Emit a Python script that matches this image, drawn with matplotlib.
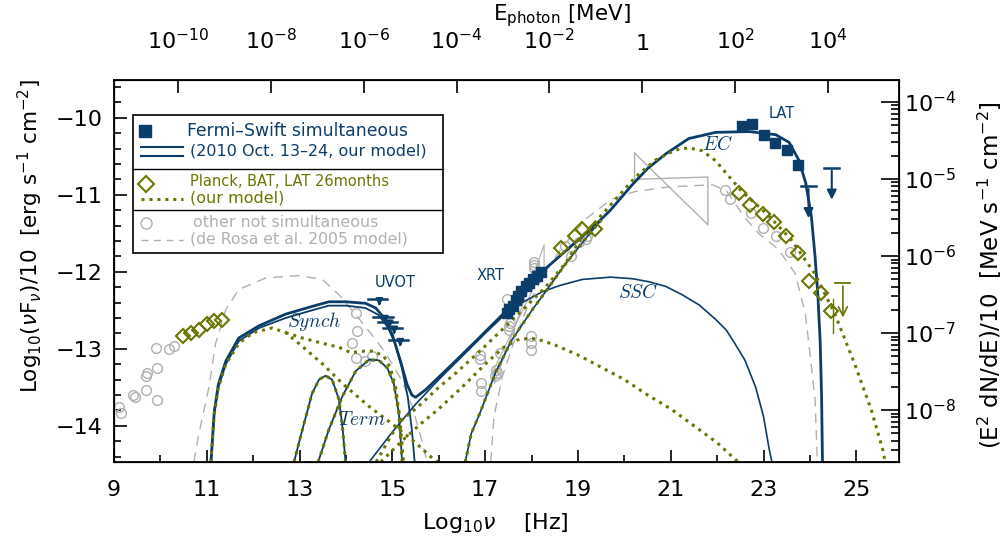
import numpy as np
import matplotlib
matplotlib.use("Agg")
import matplotlib.pyplot as plt
from matplotlib.patches import Rectangle
from matplotlib.ticker import MultipleLocator, FixedLocator, NullLocator, LogLocator

blue = '#0b3d6b'
olive = '#6b7500'
grey = '#b0b0b0'

# ---- models (log nu, log nuFnu) ----
tot_x = [11.09, 11.16, 11.25, 11.41, 11.69, 12.13, 12.7, 13.27, 13.63, 14.0, 14.42, 14.64, 14.82, 15.0,
         15.18, 15.32, 15.42, 15.5, 15.72, 16.29, 16.8, 17.3, 17.8, 18.3, 18.81, 19.31, 19.7, 20.17,
         20.5, 20.89, 21.39, 21.97, 22.69, 23.26, 23.55, 23.76, 23.91, 24.03, 24.11, 24.17, 24.22,
         24.25, 24.27]
tot_y = [-14.47, -13.82, -13.46, -13.16, -12.86, -12.7, -12.55, -12.45, -12.39, -12.39, -12.41, -12.47,
         -12.6, -12.82, -13.17, -13.47, -13.6, -13.63, -13.53, -13.2, -12.9, -12.6, -12.3, -11.96,
         -11.69, -11.43, -11.2, -10.87, -10.66, -10.47, -10.27, -10.19, -10.18, -10.22, -10.32, -10.55,
         -10.85, -11.28, -11.8, -12.3, -12.9, -13.6, -14.47]

syn_x = [11.09, 11.16, 11.25, 11.41, 11.69, 12.13, 12.7, 13.27, 13.63, 14.0, 14.42, 14.7, 14.9, 15.05,
         15.2, 15.33, 15.42, 15.48]
syn_y = [-14.47, -13.85, -13.5, -13.2, -12.9, -12.73, -12.6, -12.5, -12.44, -12.44, -12.47, -12.56,
         -12.72, -12.92, -13.24, -13.62, -14.05, -14.47]

th1_x = [12.88, 13.06, 13.27, 13.42, 13.56, 13.7, 13.85, 13.93, 13.99]
th1_y = [-14.47, -14.05, -13.58, -13.4, -13.35, -13.4, -13.66, -14.05, -14.47]
th2_x = [13.4, 13.63, 13.92, 14.21, 14.5, 14.71, 14.89, 15.03, 15.14, 15.21]
th2_y = [-14.47, -14.05, -13.62, -13.29, -13.14, -13.15, -13.25, -13.45, -13.84, -14.47]

ssc_x = [14.5, 15.0, 15.5, 16.0, 16.5, 17.0, 17.4, 17.8, 18.23, 18.6, 19.09, 19.7, 20.17, 20.53,
         20.89, 21.25, 21.61, 21.97, 22.2, 22.4, 22.6, 22.83, 23.0, 23.12, 23.18]
ssc_y = [-14.47, -14.08, -13.72, -13.4, -13.1, -12.8, -12.57, -12.4, -12.26, -12.18, -12.1, -12.07,
         -12.09, -12.13, -12.19, -12.3, -12.43, -12.62, -12.76, -12.95, -13.15, -13.5, -13.88, -14.3,
         -14.47]

ec_x = [16.57, 16.7, 16.87, 17.23, 17.58, 18.02, 18.3, 18.73, 18.95, 19.3, 19.5]
ec_y = [-14.47, -14.1, -13.86, -13.3, -12.88, -12.49, -12.26, -11.9, -11.73, -11.47, -11.33]

# green (26 months) model
gsyn_x = [11.09, 11.16, 11.25, 11.41, 11.69, 12.0, 12.41, 12.7, 13.06, 13.5, 13.92, 14.5, 15.07,
          15.5, 15.86, 15.98]
gsyn_y = [-14.47, -13.85, -13.5, -13.2, -12.93, -12.79, -12.73, -12.79, -12.97, -13.2, -13.45,
          -13.75, -14.01, -14.22, -14.42, -14.47]
glow_x = [12.7, 13.06, 13.5, 13.85, 14.1, 14.4, 14.6, 14.82, 14.96, 15.07, 15.16, 15.21, 15.24]
glow_y = [-12.79, -12.86, -12.93, -12.98, -13.05, -13.03, -13.03, -13.1, -13.25, -13.5, -13.9,
          -14.25, -14.47]
gtot_x = [14.65, 15.0, 15.21, 15.5, 15.72, 16.0, 16.36, 16.87, 17.3, 17.73, 18.3, 18.73, 19.09,
          19.5, 19.81, 20.24, 20.67, 21.1, 21.39, 21.68, 21.97, 22.25, 22.52, 23.09, 23.59, 24.1,
          24.53, 24.96, 25.32, 25.57, 25.62]
gtot_y = [-14.47, -14.1, -13.92, -13.78, -13.66, -13.5, -13.32, -13.04, -12.79, -12.54, -12.2,
          -11.89, -11.55, -11.27, -11.06, -10.77, -10.55, -10.42, -10.39, -10.43, -10.56, -10.76,
          -10.95, -11.26, -11.58, -12.02, -12.54, -13.19, -13.79, -14.31, -14.47]
gssc_x = [14.75, 15.2, 15.6, 16.0, 16.5, 17.0, 17.4, 17.75, 18.1, 18.5, 19.0, 19.5, 20.0, 20.5,
          21.0, 21.5, 22.0, 22.45]
gssc_y = [-14.47, -14.2, -13.98, -13.78, -13.5, -13.2, -12.98, -12.87, -12.87, -12.95, -13.08,
          -13.24, -13.4, -13.6, -13.78, -14.0, -14.22, -14.47]

# de Rosa et al. 2005
dr1_x = [10.72, 10.83, 11.05, 11.19, 11.41, 11.69, 12.27, 12.99, 13.49, 13.85, 14.2, 14.6, 14.85,
         15.21, 15.43, 15.61, 15.75]
dr1_y = [-14.47, -14.1, -13.49, -12.93, -12.49, -12.23, -12.08, -12.05, -12.1, -12.3, -12.55,
         -12.85, -13.05, -13.42, -13.75, -14.14, -14.47]
dr2_x = [17.12, 17.19, 17.37, 17.66, 17.94, 18.3, 18.7, 19.2, 19.72, 20.22, 20.94, 21.9, 22.2,
         22.6, 22.89, 23.32, 23.68, 23.9, 24.0, 24.11, 24.16]
dr2_y = [-14.47, -13.88, -13.36, -12.84, -12.41, -12.0, -11.65, -11.3, -11.06, -10.96, -10.9,
         -10.87, -10.95, -11.3, -11.5, -11.71, -12.02, -12.54, -13.06, -13.66, -14.47]

# ---- data ----
xrt_x = [17.46, 17.52, 17.59, 17.66, 17.71, 17.78, 17.87, 17.95, 18.03, 18.11, 18.2]
xrt_y = [-12.53, -12.49, -12.44, -12.37, -12.31, -12.25, -12.19, -12.14, -12.09, -12.05, -12.0]
lat_x = [22.53, 22.76, 23.0, 23.24, 23.5, 23.74]
lat_y = [-10.11, -10.08, -10.23, -10.33, -10.42, -10.61]
uvot_x = [14.68, 14.8, 14.9, 15.0, 15.13]
uvot_y = [-12.36, -12.59, -12.65, -12.73, -12.89]
latul_x = [23.97, 24.47]
latul_y = [-10.89, -10.65]

planck_x = [10.48, 10.66, 10.83, 11.0, 11.16, 11.33]
planck_y = [-12.84, -12.79, -12.75, -12.68, -12.64, -12.62]
bat_x = [18.63, 18.94, 19.09, 19.36]
bat_y = [-11.69, -11.54, -11.45, -11.45]
lat26_x = [22.48, 22.71, 22.98, 23.22, 23.49, 23.74, 23.98, 24.23, 24.46]
lat26_y = [-10.98, -11.13, -11.25, -11.36, -11.54, -11.76, -12.12, -12.28, -12.51]
lat26ul_x = 24.71
lat26ul_y = -12.15

other_x = [9.11, 9.14, 9.4, 9.45, 9.68, 9.68, 9.72, 9.93, 9.93, 9.9, 10.19, 10.29,
           14.21, 14.24, 14.14, 14.21, 14.42, 14.57,
           16.88, 16.88, 16.9, 16.9, 17.22, 17.23, 17.25, 17.33, 17.48, 17.51, 17.51, 17.53,
           17.98, 17.98, 17.98, 18.05, 18.05, 18.05,
           18.73, 18.84, 19.02, 19.17, 19.2,
           22.16, 22.27, 22.73, 22.98, 23.27, 23.56]
other_y = [-13.75, -13.84, -13.6, -13.63, -13.53, -13.36, -13.32, -13.25, -13.66, -12.99, -13.0, -12.96,
           -12.54, -12.77, -12.93, -13.12, -13.16, -13.1,
           -13.08, -13.13, -13.45, -13.55, -13.36, -13.27, -13.32, -13.06, -12.36, -12.71, -12.76, -12.67,
           -12.84, -12.93, -13.01, -11.87, -11.91, -11.95,
           -11.67, -11.8, -11.61, -11.58, -11.54,
           -10.94, -11.06, -11.24, -11.43, -11.54, -11.74]

# bow ties
bow1_x = [20.22, 21.8, 21.8, 20.22, 20.22]
bow1_y = [-10.46, -11.39, -10.77, -10.8, -10.46]
bow2_x = [17.2, 18.27, 18.27, 17.2, 17.2]
bow2_y = [-13.45, -11.65, -11.93, -13.25, -13.45]

plt.rcParams['font.family'] = 'DejaVu Sans'
fig = plt.figure(figsize=(10.08, 5.43), dpi=100)
ax = fig.add_axes([0.1131, 0.1492, 0.7788, 0.7035])

ax.plot(dr1_x, dr1_y, color=grey, lw=1, ls=(0, (7, 5)))
ax.plot(dr2_x, dr2_y, color=grey, lw=1, ls=(0, (7, 5)))
ax.plot(bow1_x, bow1_y, color=grey, lw=1)
ax.plot(bow2_x, bow2_y, color=grey, lw=0.8)
ax.plot(other_x, other_y, 'o', ms=7, mfc='none', mec=grey, mew=1)

ax.plot(syn_x, syn_y, color=blue, lw=1.3)
ax.plot(th1_x, th1_y, color=blue, lw=1.3)
ax.plot(th2_x, th2_y, color=blue, lw=1.3)
ax.plot(ssc_x, ssc_y, color=blue, lw=1.2)
ax.plot(ec_x, ec_y, color=blue, lw=1.2)
ax.plot(tot_x, tot_y, color=blue, lw=2)

dot = (0, (1, 1.6))
for gx, gy in [(gsyn_x, gsyn_y), (glow_x, glow_y), (gtot_x, gtot_y), (gssc_x, gssc_y),
               (th1_x, th1_y), (th2_x, th2_y), (ec_x, ec_y)]:
    ax.plot(gx, gy, color=olive, lw=2.2, ls=dot)

ax.plot(planck_x + bat_x + lat26_x, planck_y + bat_y + lat26_y, 'D', ms=7, mfc='none', mec=olive, mew=1.5)
ax.plot(xrt_x, xrt_y, 's', ms=7, color=blue)
ax.errorbar(lat_x, lat_y, yerr=0.05, fmt='s', ms=7.5, color=blue, elinewidth=1)

# upper limits
for ux, uy in zip(uvot_x, uvot_y):
    ax.plot([ux - 0.21, ux + 0.21], [uy, uy], color=blue, lw=1.8)
    ax.annotate('', xy=(ux + 0.04, uy - 0.12), xytext=(ux + 0.04, uy),
                arrowprops=dict(arrowstyle='-|>', color=blue, lw=1.5, mutation_scale=10))
for ux, uy in zip(latul_x, latul_y):
    ax.plot([ux - 0.16, ux + 0.16], [uy, uy], color=blue, lw=1.8)
    ax.annotate('', xy=(ux, uy - 0.45), xytext=(ux, uy),
                arrowprops=dict(arrowstyle='-|>', color=blue, lw=1.5, mutation_scale=14))
ax.plot([lat26ul_x - 0.16, lat26ul_x + 0.16], [lat26ul_y, lat26ul_y], color=olive, lw=1.3)
ax.annotate('', xy=(lat26ul_x, lat26ul_y - 0.48), xytext=(lat26ul_x, lat26ul_y),
            arrowprops=dict(arrowstyle='->', color=olive, lw=1.2, mutation_scale=16))
ax.plot([24.49, 24.49], [-12.36, -12.8], color=olive, lw=1)

# component names
ax.text(13.31, -12.65, r'$Synch$', color=blue, fontsize=14, math_fontfamily='cm', ha='center', va='center')
ax.text(14.35, -13.92, r'$Term$', color=blue, fontsize=14, math_fontfamily='cm', ha='center', va='center')
ax.text(20.31, -12.27, r'$SSC$', color=blue, fontsize=14, math_fontfamily='cm', ha='center', va='center')
ax.text(22.0, -10.35, r'$EC$', color=blue, fontsize=14, math_fontfamily='cm', ha='center', va='center')
ax.text(15.06, -12.14, 'UVOT', color=blue, fontsize=10.5, ha='center', va='center')
ax.text(17.12, -12.05, 'XRT', color=blue, fontsize=10.5, ha='center', va='center')
ax.text(23.4, -9.95, 'LAT', color=blue, fontsize=10.5, ha='center', va='center')

# legend box
tr = ax.transAxes
ax.add_patch(Rectangle((0.0242, 0.547), 0.3949, 0.361, transform=tr, fill=False, ec='black', lw=1.2, zorder=5))
ax.plot([0.0242, 0.4191], [0.767, 0.767], transform=tr, color='black', lw=1, zorder=5)
ax.plot([0.0242, 0.4191], [0.660, 0.660], transform=tr, color='black', lw=1, zorder=5)
ax.plot([0.0395], [0.866], 's', ms=9, color=blue, transform=tr)
ax.plot([0.0344, 0.0879], [0.825, 0.825], color=blue, lw=1.5, transform=tr)
ax.plot([0.0344, 0.0879], [0.801, 0.801], color=blue, lw=1.5, transform=tr)
ax.plot([0.041], [0.728], 'D', ms=8, mfc='none', mec=olive, mew=1.5, transform=tr)
ax.plot([0.0344, 0.0879], [0.688, 0.688], color=olive, lw=2.2, ls=dot, transform=tr)
ax.plot([0.041], [0.626], 'o', ms=8, mfc='none', mec=grey, mew=1, transform=tr)
ax.plot([0.0344, 0.0879], [0.581, 0.581], color=grey, lw=1, ls=(0, (5, 4)), transform=tr)
ax.text(0.093, 0.866, 'Fermi\u2013Swift simultaneous', color=blue, fontsize=12.4, va='center', transform=tr)
ax.text(0.0968, 0.814, '(2010 Oct. 13\u201324, our model)', color=blue, fontsize=11.5, va='center', transform=tr)
ax.text(0.0968, 0.733, 'Planck, BAT, LAT 26months', color=olive, fontsize=10.5, va='center', transform=tr)
ax.text(0.0968, 0.692, '(our model)', color=olive, fontsize=11.5, va='center', transform=tr)
ax.text(0.100, 0.626, 'other not simultaneous', color=grey, fontsize=11.4, va='center', transform=tr)
ax.text(0.0968, 0.584, '(de Rosa et al. 2005 model)', color=grey, fontsize=11.3, va='center', transform=tr)

ax.set_xlim(9, 25.92)
ax.set_ylim(-14.47, -9.51)
ax.xaxis.set_major_locator(FixedLocator([9, 11, 13, 15, 17, 19, 21, 23, 25]))
ax.xaxis.set_minor_locator(MultipleLocator(1))
ax.yaxis.set_major_locator(MultipleLocator(1))
ax.yaxis.set_minor_locator(MultipleLocator(0.2))
ax.tick_params(which='both', direction='in', labelsize=16, width=1.2)
ax.tick_params(which='major', length=9)
ax.tick_params(which='minor', length=5)
ax.tick_params(axis='x', pad=13)
ax.tick_params(axis='y', pad=8)
ax.set_xticklabels(['9', '11', '13', '15', '17', '19', '21', '23', '25'])
for s in ax.spines.values():
    s.set_linewidth(1.3)

# right axis: E^2 dN/dE in MeV
conv = 5.7953
ax2 = ax.twinx()
ax2.set_yscale('log')
ax2.set_ylim(10 ** (-14.47 + conv), 10 ** (-9.51 + conv))
ax2.yaxis.set_major_locator(LogLocator(base=10, numticks=10))
ax2.yaxis.set_minor_locator(LogLocator(base=10, subs=np.arange(2, 10), numticks=10))
ax2.tick_params(which='both', direction='in', labelsize=16, width=1.2)
ax2.tick_params(which='major', length=13)
ax2.tick_params(which='minor', length=6)

# top axis: photon energy in MeV
hlog = -20.3835
ax3 = ax.twiny()
ax3.set_xscale('log')
ax3.set_xlim(10 ** (9 + hlog), 10 ** (25.92 + hlog))
top_ticks = [1e-10, 1e-8, 1e-6, 1e-4, 1e-2, 1, 1e2, 1e4]
top_labels = [r'$10^{-10}$', r'$10^{-8}$', r'$10^{-6}$', r'$10^{-4}$', r'$10^{-2}$', '1',
              r'$10^{2}$', r'$10^{4}$']
ax3.xaxis.set_major_locator(FixedLocator(top_ticks))
ax3.xaxis.set_minor_locator(NullLocator())
ax3.set_xticklabels(top_labels)
ax3.tick_params(direction='in', labelsize=16, length=9, width=1.2, pad=19)

# axis titles
fig.text(0.491, 0.036, r'Log$_{10}\nu$    [Hz]', fontsize=16, ha='center', va='center')
fig.text(0.5575, 0.971, r'E$_{\rm photon}$ [MeV]', fontsize=15.5, ha='center', va='center')
fig.text(0.030, 0.565, r'Log$_{10}$($\nu$F$_\nu$)/10  [erg s$^{-1}$ cm$^{-2}$]', fontsize=15.5,
         rotation=90, ha='center', va='center')
fig.text(0.982, 0.494, r'(E$^2$ dN/dE)/10  [MeV s$^{-1}$ cm$^{-2}$]', fontsize=16.5,
         rotation=90, ha='center', va='center')

fig.savefig('out.png', dpi=100)
